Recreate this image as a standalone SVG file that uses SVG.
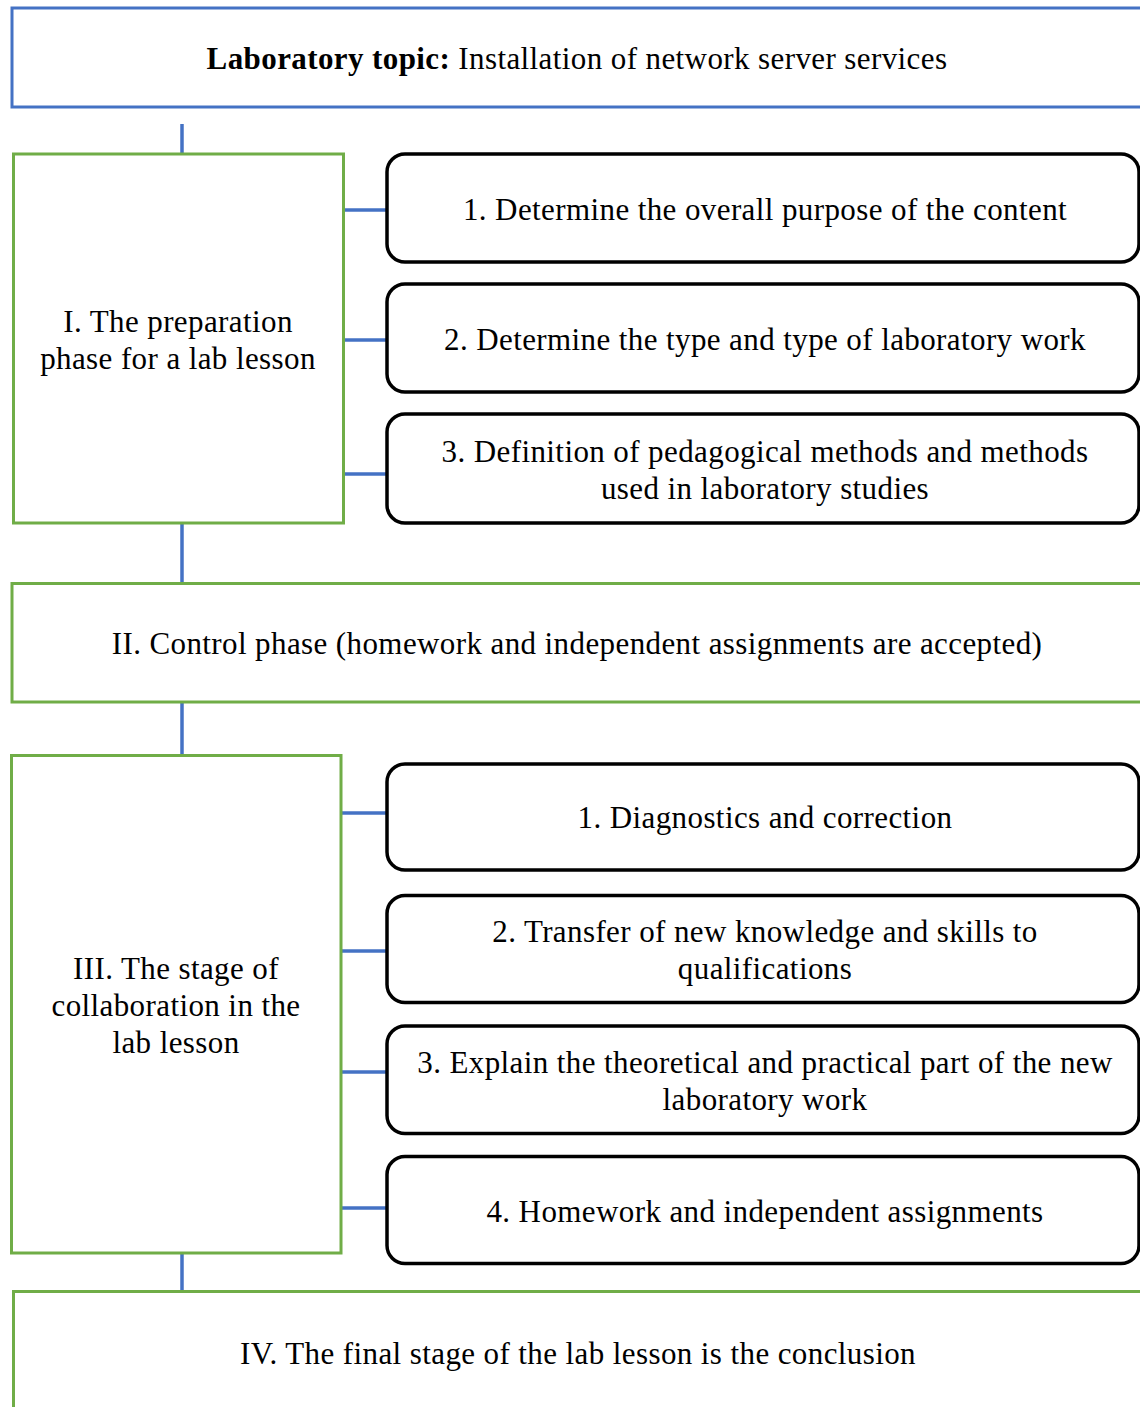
<svg xmlns="http://www.w3.org/2000/svg" width="1140" height="1407" viewBox="0 0 1140 1407">
<style>
.t{font-family:"Liberation Serif","Times New Roman",serif;font-size:31px;letter-spacing:0.4px;fill:#000;text-anchor:middle}
.b{font-weight:bold}
.blue{fill:#fff;stroke:#4472C4;stroke-width:3}
.green{fill:#fff;stroke:#70AD47;stroke-width:3}
.round{fill:#fff;stroke:#000;stroke-width:3.5}
.con{stroke:#4472C4;stroke-width:3.5;fill:none}
</style>
<rect width="1140" height="1407" fill="#fff"/>
<g id="connectors">
<line class="con" x1="182" y1="124" x2="182" y2="154"/>
<line class="con" x1="343.5" y1="210" x2="387" y2="210"/>
<line class="con" x1="343.5" y1="340" x2="387" y2="340"/>
<line class="con" x1="343.5" y1="474" x2="387" y2="474"/>
<line class="con" x1="182" y1="523" x2="182" y2="583"/>
<line class="con" x1="182" y1="702" x2="182" y2="755"/>
<line class="con" x1="341" y1="813" x2="387" y2="813"/>
<line class="con" x1="341" y1="951" x2="387" y2="951"/>
<line class="con" x1="341" y1="1072" x2="387" y2="1072"/>
<line class="con" x1="341" y1="1208" x2="387" y2="1208"/>
<line class="con" x1="182" y1="1253" x2="182" y2="1291"/>
</g>
<g id="topic">
<rect class="blue" x="12" y="8" width="1140" height="99"/>
<text class="t" x="577" y="69"><tspan class="b">Laboratory topic:</tspan> Installation of network server services</text>
</g>
<g id="phase1">
<rect class="green" x="13.5" y="154" width="330" height="369"/>
<text class="t" x="178" y="332">I. The preparation</text>
<text class="t" x="178" y="369">phase for a lab lesson</text>
</g>
<g id="p1-step1">
<rect class="round" x="387" y="154" width="752" height="108" rx="18"/>
<text class="t" x="765" y="220">1. Determine the overall purpose of the content</text>
</g>
<g id="p1-step2">
<rect class="round" x="387" y="284" width="752" height="108" rx="18"/>
<text class="t" x="765" y="350">2. Determine the type and type of laboratory work</text>
</g>
<g id="p1-step3">
<rect class="round" x="387" y="414" width="752" height="109" rx="18"/>
<text class="t" x="765" y="462">3. Definition of pedagogical methods and methods</text>
<text class="t" x="765" y="499">used in laboratory studies</text>
</g>
<g id="phase2">
<rect class="green" x="12" y="583.5" width="1140" height="118.5"/>
<text class="t" x="577" y="654">II. Control phase (homework and independent assignments are accepted)</text>
</g>
<g id="phase3">
<rect class="green" x="11.5" y="755.5" width="329.5" height="497.5"/>
<text class="t" x="176" y="979">III. The stage of</text>
<text class="t" x="176" y="1016">collaboration in the</text>
<text class="t" x="176" y="1053">lab lesson</text>
</g>
<g id="p3-step1">
<rect class="round" x="387" y="764" width="752" height="106" rx="18"/>
<text class="t" x="765" y="828">1. Diagnostics and correction</text>
</g>
<g id="p3-step2">
<rect class="round" x="387" y="895.5" width="752" height="107" rx="18"/>
<text class="t" x="765" y="942">2. Transfer of new knowledge and skills to</text>
<text class="t" x="765" y="979">qualifications</text>
</g>
<g id="p3-step3">
<rect class="round" x="387" y="1026" width="752" height="107.5" rx="18"/>
<text class="t" x="765" y="1073">3. Explain the theoretical and practical part of the new</text>
<text class="t" x="765" y="1110">laboratory work</text>
</g>
<g id="p3-step4">
<rect class="round" x="387" y="1156.5" width="752" height="107" rx="18"/>
<text class="t" x="765" y="1222">4. Homework and independent assignments</text>
</g>
<g id="phase4">
<rect class="green" x="13.5" y="1291.5" width="1140" height="140"/>
<text class="t" x="578" y="1364">IV. The final stage of the lab lesson is the conclusion</text>
</g>
</svg>
